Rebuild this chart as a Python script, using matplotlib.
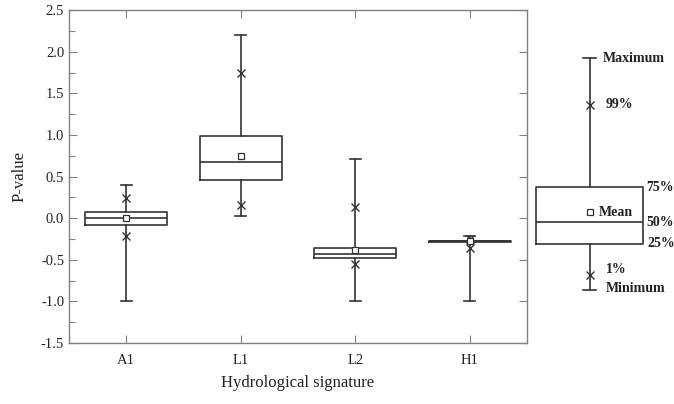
import matplotlib
matplotlib.use("Agg")
import matplotlib.pyplot as plt
from matplotlib.ticker import MultipleLocator, FormatStrFormatter

# ── Data ──────────────────────────────────────────────────────────────────────
signatures = ["A1", "L1", "L2", "H1"]
p_min  = [-1.00, 0.02, -1.00, -1.00]
p_1    = [-0.21, 0.16, -0.55, -0.36]
p_25   = [-0.08, 0.46, -0.48, -0.287]
p_50   = [ 0.00, 0.67, -0.43, -0.28]
p_mean = [ 0.00, 0.75, -0.38, -0.28]
p_75   = [ 0.07, 0.99, -0.36, -0.273]
p_99   = [ 0.24, 1.75,  0.14, -0.25]
p_max  = [ 0.40, 2.20,  0.71, -0.22]

# legend (key) box, drawn on the same P-value scale
key_vals = {"min": -0.86, "p1": -0.68, "q1": -0.31, "med": -0.05,
            "mean": 0.07, "q3": 0.37, "p99": 1.36, "max": 1.92}
key_labels = [("Maximum", 0.507, 1.92), ("99%", 0.528, 1.36),
              ("75%", 0.812, 0.37), ("Mean", 0.479, 0.07),
              ("50%", 0.812, -0.05), ("25%", 0.818, -0.31),
              ("1%", 0.528, -0.62), ("Minimum", 0.528, -0.84)]

# ── Style ─────────────────────────────────────────────────────────────────────
plt.rcParams["font.family"] = ["Liberation Serif", "DejaVu Serif"]
plt.rcParams["axes.unicode_minus"] = False
LINE  = "#333333"
SPINE = "#808080"

box_kw = dict(
    boxprops=dict(color=LINE, linewidth=1.2),
    whiskerprops=dict(color=LINE, linewidth=1.2),
    capprops=dict(color=LINE, linewidth=1.2),
    medianprops=dict(color=LINE, linewidth=1.2),
    flierprops=dict(marker="x", markersize=6, markeredgecolor=LINE,
                    markeredgewidth=1.0, linestyle="none"),
    meanprops=dict(marker="s", markersize=4, markerfacecolor="white",
                   markeredgecolor=LINE, markeredgewidth=0.9),
    showmeans=True, showfliers=True,
)

fig = plt.figure(figsize=(6.74, 4.04), dpi=100)
ax = fig.add_axes([0.1024, 0.151, 0.6795, 0.824])

stats = []
for i, name in enumerate(signatures):
    stats.append(dict(label=name, whislo=p_min[i], q1=p_25[i], med=p_50[i],
                      q3=p_75[i], whishi=p_max[i], mean=p_mean[i],
                      fliers=[p_1[i], p_99[i]]))
ax.bxp(stats, positions=range(1, len(signatures) + 1), widths=0.72,
       capwidths=0.1, **box_kw)

ax.set_xlim(0.5, 4.5)
ax.set_ylim(-1.5, 2.5)
ax.yaxis.set_major_locator(MultipleLocator(0.5))
ax.yaxis.set_minor_locator(MultipleLocator(0.25))
ax.yaxis.set_major_formatter(FormatStrFormatter("%.1f"))
ax.tick_params(axis="both", direction="in", colors=SPINE, labelcolor="#222222",
               labelsize=10.5, length=6, width=0.8, top=True, right=True)
ax.tick_params(axis="y", which="minor", direction="in", length=4, width=0.8,
               colors=SPINE, right=False)
ax.tick_params(axis="x", pad=8)
for sp in ax.spines.values():
    sp.set_color(SPINE)
    sp.set_linewidth(1.0)
ax.set_xlabel("Hydrological signature", fontsize=12, color="#222222", labelpad=6)
ax.set_ylabel("P-value", fontsize=12, color="#222222", labelpad=10)

# ── Key box on the right ──────────────────────────────────────────────────────
kax = fig.add_axes([0.786, 0.151, 0.2136, 0.824])
kax.set_xlim(0, 1)
kax.set_ylim(-1.5, 2.5)
kax.axis("off")
kstat = [dict(whislo=key_vals["min"], q1=key_vals["q1"], med=key_vals["med"],
              q3=key_vals["q3"], whishi=key_vals["max"], mean=key_vals["mean"],
              fliers=[key_vals["p1"], key_vals["p99"]])]
kax.bxp(kstat, positions=[0.415], widths=0.743, capwidths=0.088,
        manage_ticks=False, **box_kw)
for txt, x, y in key_labels:
    kax.text(x, y, txt, fontsize=10, fontweight="bold", color="#222222",
             ha="left", va="center")

fig.savefig("out.png", dpi=100)
